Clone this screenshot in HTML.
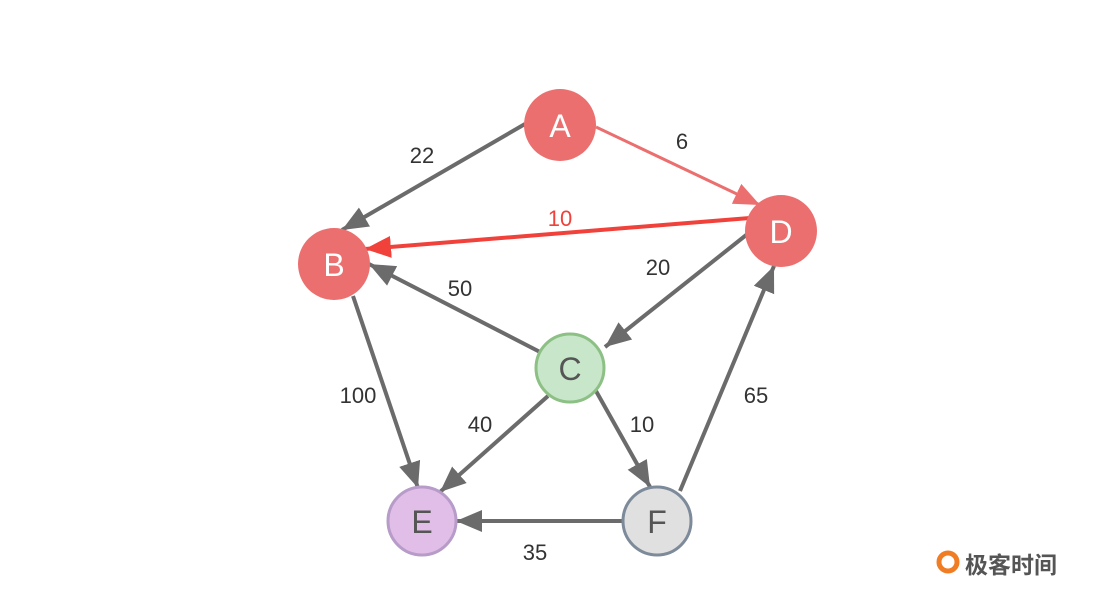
<!DOCTYPE html>
<html><head><meta charset="utf-8"><style>
html,body{margin:0;padding:0;background:#fff;}
svg{display:block;font-family:"Liberation Sans","Noto Sans CJK SC",sans-serif;}
</style></head><body>
<svg width="1093" height="601" viewBox="0 0 1093 601">
<defs>
<marker id="g" markerUnits="userSpaceOnUse" markerWidth="28" markerHeight="24" refX="26" refY="12" orient="auto"><path d="M0,1 L26,12 L0,23 Z" fill="#6b6b6b"/></marker>
<marker id="r" markerUnits="userSpaceOnUse" markerWidth="28" markerHeight="24" refX="26" refY="12" orient="auto"><path d="M0,1 L26,12 L0,23 Z" fill="#f0413a"/></marker>
<marker id="p" markerUnits="userSpaceOnUse" markerWidth="28" markerHeight="24" refX="26" refY="12" orient="auto"><path d="M0,1 L26,12 L0,23 Z" fill="#ec6f6f"/></marker>
</defs>
<g stroke-width="4" fill="none">
<line x1="525" y1="124" x2="342" y2="230" stroke="#6b6b6b" marker-end="url(#g)"/>
<line x1="596" y1="127" x2="760" y2="205" stroke="#ec6f6f" stroke-width="3" marker-end="url(#p)"/>
<line x1="750" y1="218" x2="365" y2="249" stroke="#f0413a" marker-end="url(#r)"/>
<line x1="540" y1="352" x2="369" y2="264" stroke="#6b6b6b" marker-end="url(#g)"/>
<line x1="750" y1="232" x2="605" y2="347" stroke="#6b6b6b" marker-end="url(#g)"/>
<line x1="353" y1="296" x2="418" y2="488" stroke="#6b6b6b" marker-end="url(#g)"/>
<line x1="548" y1="396" x2="440" y2="492" stroke="#6b6b6b" marker-end="url(#g)"/>
<line x1="596" y1="391" x2="650" y2="487" stroke="#6b6b6b" marker-end="url(#g)"/>
<line x1="622" y1="521" x2="456" y2="521" stroke="#6b6b6b" marker-end="url(#g)"/>
<line x1="680" y1="491" x2="774" y2="266" stroke="#6b6b6b" marker-end="url(#g)"/>
</g>
<g font-size="22" fill="#333" text-anchor="middle">
<text x="422" y="163">22</text>
<text x="682" y="149">6</text>
<text x="560" y="226" fill="#f0413a">10</text>
<text x="658" y="275">20</text>
<text x="460" y="296">50</text>
<text x="358" y="403">100</text>
<text x="480" y="432">40</text>
<text x="642" y="432">10</text>
<text x="756" y="403">65</text>
<text x="535" y="560">35</text>
</g>
<circle cx="560" cy="125" r="36" fill="#ec6f6f"/>
<circle cx="334" cy="264" r="36" fill="#ec6f6f"/>
<circle cx="781" cy="231" r="36" fill="#ec6f6f"/>
<circle cx="570" cy="368" r="34" fill="#c8e6c9" stroke="#8cc084" stroke-width="3"/>
<circle cx="422" cy="521" r="34" fill="#e1bee7" stroke="#b79bc8" stroke-width="3"/>
<circle cx="657" cy="521" r="34" fill="#e0e0e0" stroke="#7d8a9a" stroke-width="3"/>
<g font-size="32" text-anchor="middle">
<text x="560" y="137" fill="#fff">A</text>
<text x="334" y="276" fill="#fff">B</text>
<text x="781" y="243" fill="#fff">D</text>
<text x="570" y="380" fill="#555">C</text>
<text x="422" y="533" fill="#555">E</text>
<text x="657" y="533" fill="#555">F</text>
</g>
<circle cx="948" cy="562" r="9" fill="none" stroke="#f07c24" stroke-width="5"/>
<text x="965" y="573" font-size="23" fill="#555" font-weight="bold" font-family="'Liberation Sans','Noto Sans CJK SC',sans-serif">极客时间</text>
</svg>
</body></html>
